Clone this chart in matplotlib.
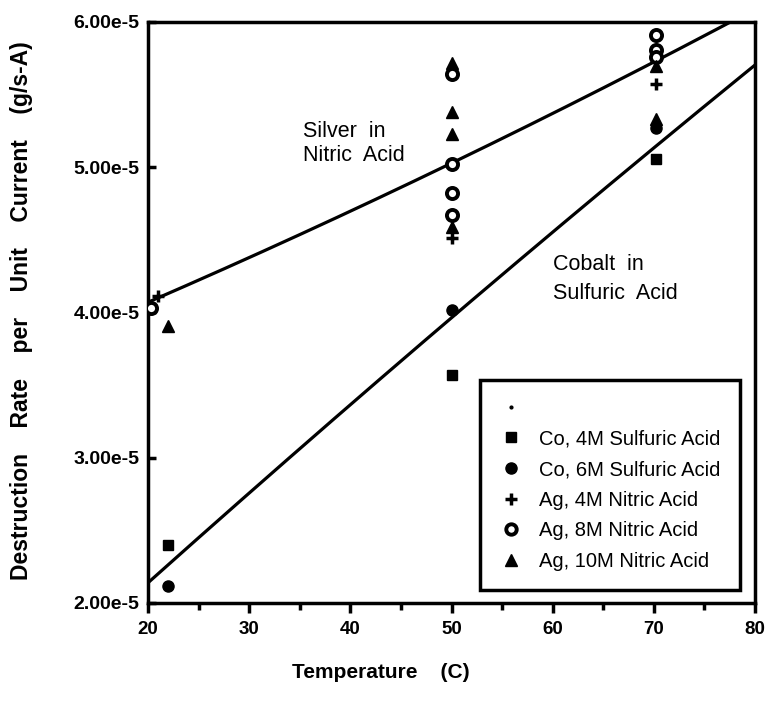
import matplotlib
matplotlib.use("Agg")
import matplotlib.pyplot as plt
import numpy as np
from matplotlib.lines import Line2D

plt.rcParams['font.family'] = ['Liberation Sans', 'DejaVu Sans']

# ---- data ----
co4_T = [22, 50, 70.2]
co4_R = [2.40e-5, 3.57e-5, 5.06e-5]

co6_T = [22, 50, 70.2]
co6_R = [2.12e-5, 4.02e-5, 5.27e-5]

ag4_T = [21, 50, 70.2]
ag4_R = [4.11e-5, 4.51e-5, 5.57e-5]

ag8_T = [20.3, 50, 50, 50, 50, 70.2, 70.2, 70.2]
ag8_R = [4.03e-5, 4.67e-5, 4.82e-5, 5.02e-5, 5.64e-5, 5.91e-5, 5.81e-5, 5.76e-5]

ag10_T = [22, 50, 50, 50, 50, 70.2, 70.2]
ag10_R = [3.91e-5, 4.59e-5, 5.23e-5, 5.38e-5, 5.72e-5, 5.70e-5, 5.33e-5]

# fitted curves
silver_fit_T = [20, 50, 70, 77.5]
silver_fit_R = [4.07e-5, 5.03e-5, 5.72e-5, 6.0e-5]
cobalt_fit_T = [20, 50, 70, 80]
cobalt_fit_R = [2.14e-5, 3.96e-5, 5.14e-5, 5.70e-5]

legend_labels = ["", "Co, 4M Sulfuric Acid", "Co, 6M Sulfuric Acid",
                 "Ag, 4M Nitric Acid", "Ag, 8M Nitric Acid", "Ag, 10M Nitric Acid"]
yticks = [2e-5, 3e-5, 4e-5, 5e-5, 6e-5]
ytick_labels = ["2.00e-5", "3.00e-5", "4.00e-5", "5.00e-5", "6.00e-5"]
xticks = [20, 30, 40, 50, 60, 70, 80]

# ---- figure ----
fig = plt.figure(figsize=(7.65, 7.04), dpi=100)
ax = fig.add_axes([0.1935, 0.1435, 0.7935, 0.8253])

for T, R in [(silver_fit_T, silver_fit_R), (cobalt_fit_T, cobalt_fit_R)]:
    c = np.polyfit(T, R, 2)
    tt = np.linspace(20, max(T), 200)
    ax.plot(tt, np.polyval(c, tt), color='black', lw=2.3, zorder=2)

ms = 8
ax.plot(co4_T, co4_R, ls='none', marker='s', ms=7.5, mfc='black', mec='black', zorder=3)
ax.plot(co6_T, co6_R, ls='none', marker='o', ms=ms, mfc='black', mec='black', zorder=3)
ax.plot(ag4_T, ag4_R, ls='none', marker='+', ms=8, mew=2.5, color='black', zorder=3)
ax.plot(ag8_T, ag8_R, ls='none', marker='o', ms=8, mfc='white', mec='black', mew=2.8, zorder=3)
ax.plot(ag10_T, ag10_R, ls='none', marker='^', ms=ms, mfc='black', mec='black', zorder=3)

ax.set_xlim(20, 80)
ax.set_ylim(2e-5, 6e-5)

ax.set_xticks(xticks)
ax.set_xticklabels([str(t) for t in xticks], fontsize=13.5, fontweight='bold')
ax.set_xticks([25, 35, 45, 55, 65, 75], minor=True)
ax.tick_params(axis='x', which='major', direction='out', length=7, width=2.5, pad=6)
ax.tick_params(axis='x', which='minor', direction='out', length=5, width=2.5)

ax.set_yticks(yticks)
ax.set_yticklabels(ytick_labels, fontsize=14, fontweight='bold')
ax.tick_params(axis='y', which='major', direction='in', length=6, width=2.5, pad=6)

for s in ax.spines.values():
    s.set_linewidth(2.5)

ax.set_xlabel("Temperature    (C)", fontsize=15, fontweight='bold')
ax.xaxis.set_label_coords(0.384, -0.103)
ax.set_ylabel("Destruction    Rate    per    Unit    Current    (g/s-A)", fontsize=16.5, fontweight='bold')
ax.yaxis.set_label_coords(-0.19, 0.504)

ax.text(35.3, 5.243e-5, "Silver  in", fontsize=15.5, ha='left', va='center')
ax.text(35.3, 5.084e-5, "Nitric  Acid", fontsize=15.5, ha='left', va='center')
ax.text(60.0, 4.327e-5, "Cobalt  in", fontsize=15.5, ha='left', va='center')
ax.text(60.0, 4.134e-5, "Sulfuric  Acid", fontsize=15.5, ha='left', va='center')

handles = [
    Line2D([], [], ls='none', marker='.', ms=4, color='black'),
    Line2D([], [], ls='none', marker='s', ms=7, mfc='black', mec='black'),
    Line2D([], [], ls='none', marker='o', ms=8, mfc='black', mec='black'),
    Line2D([], [], ls='none', marker='+', ms=8, mew=2.5, color='black'),
    Line2D([], [], ls='none', marker='o', ms=7.5, mfc='white', mec='black', mew=2.8),
    Line2D([], [], ls='none', marker='^', ms=8, mfc='black', mec='black'),
]
leg = ax.legend(handles, legend_labels, loc='lower right', bbox_to_anchor=(0.975, 0.022),
                fontsize=14.5, labelspacing=0.58, handletextpad=0.8, handlelength=1.2,
                borderpad=0.95, fancybox=False, framealpha=1, edgecolor='black', borderaxespad=0)
leg.get_frame().set_linewidth(2.5)

fig.savefig("out.png", dpi=100)
